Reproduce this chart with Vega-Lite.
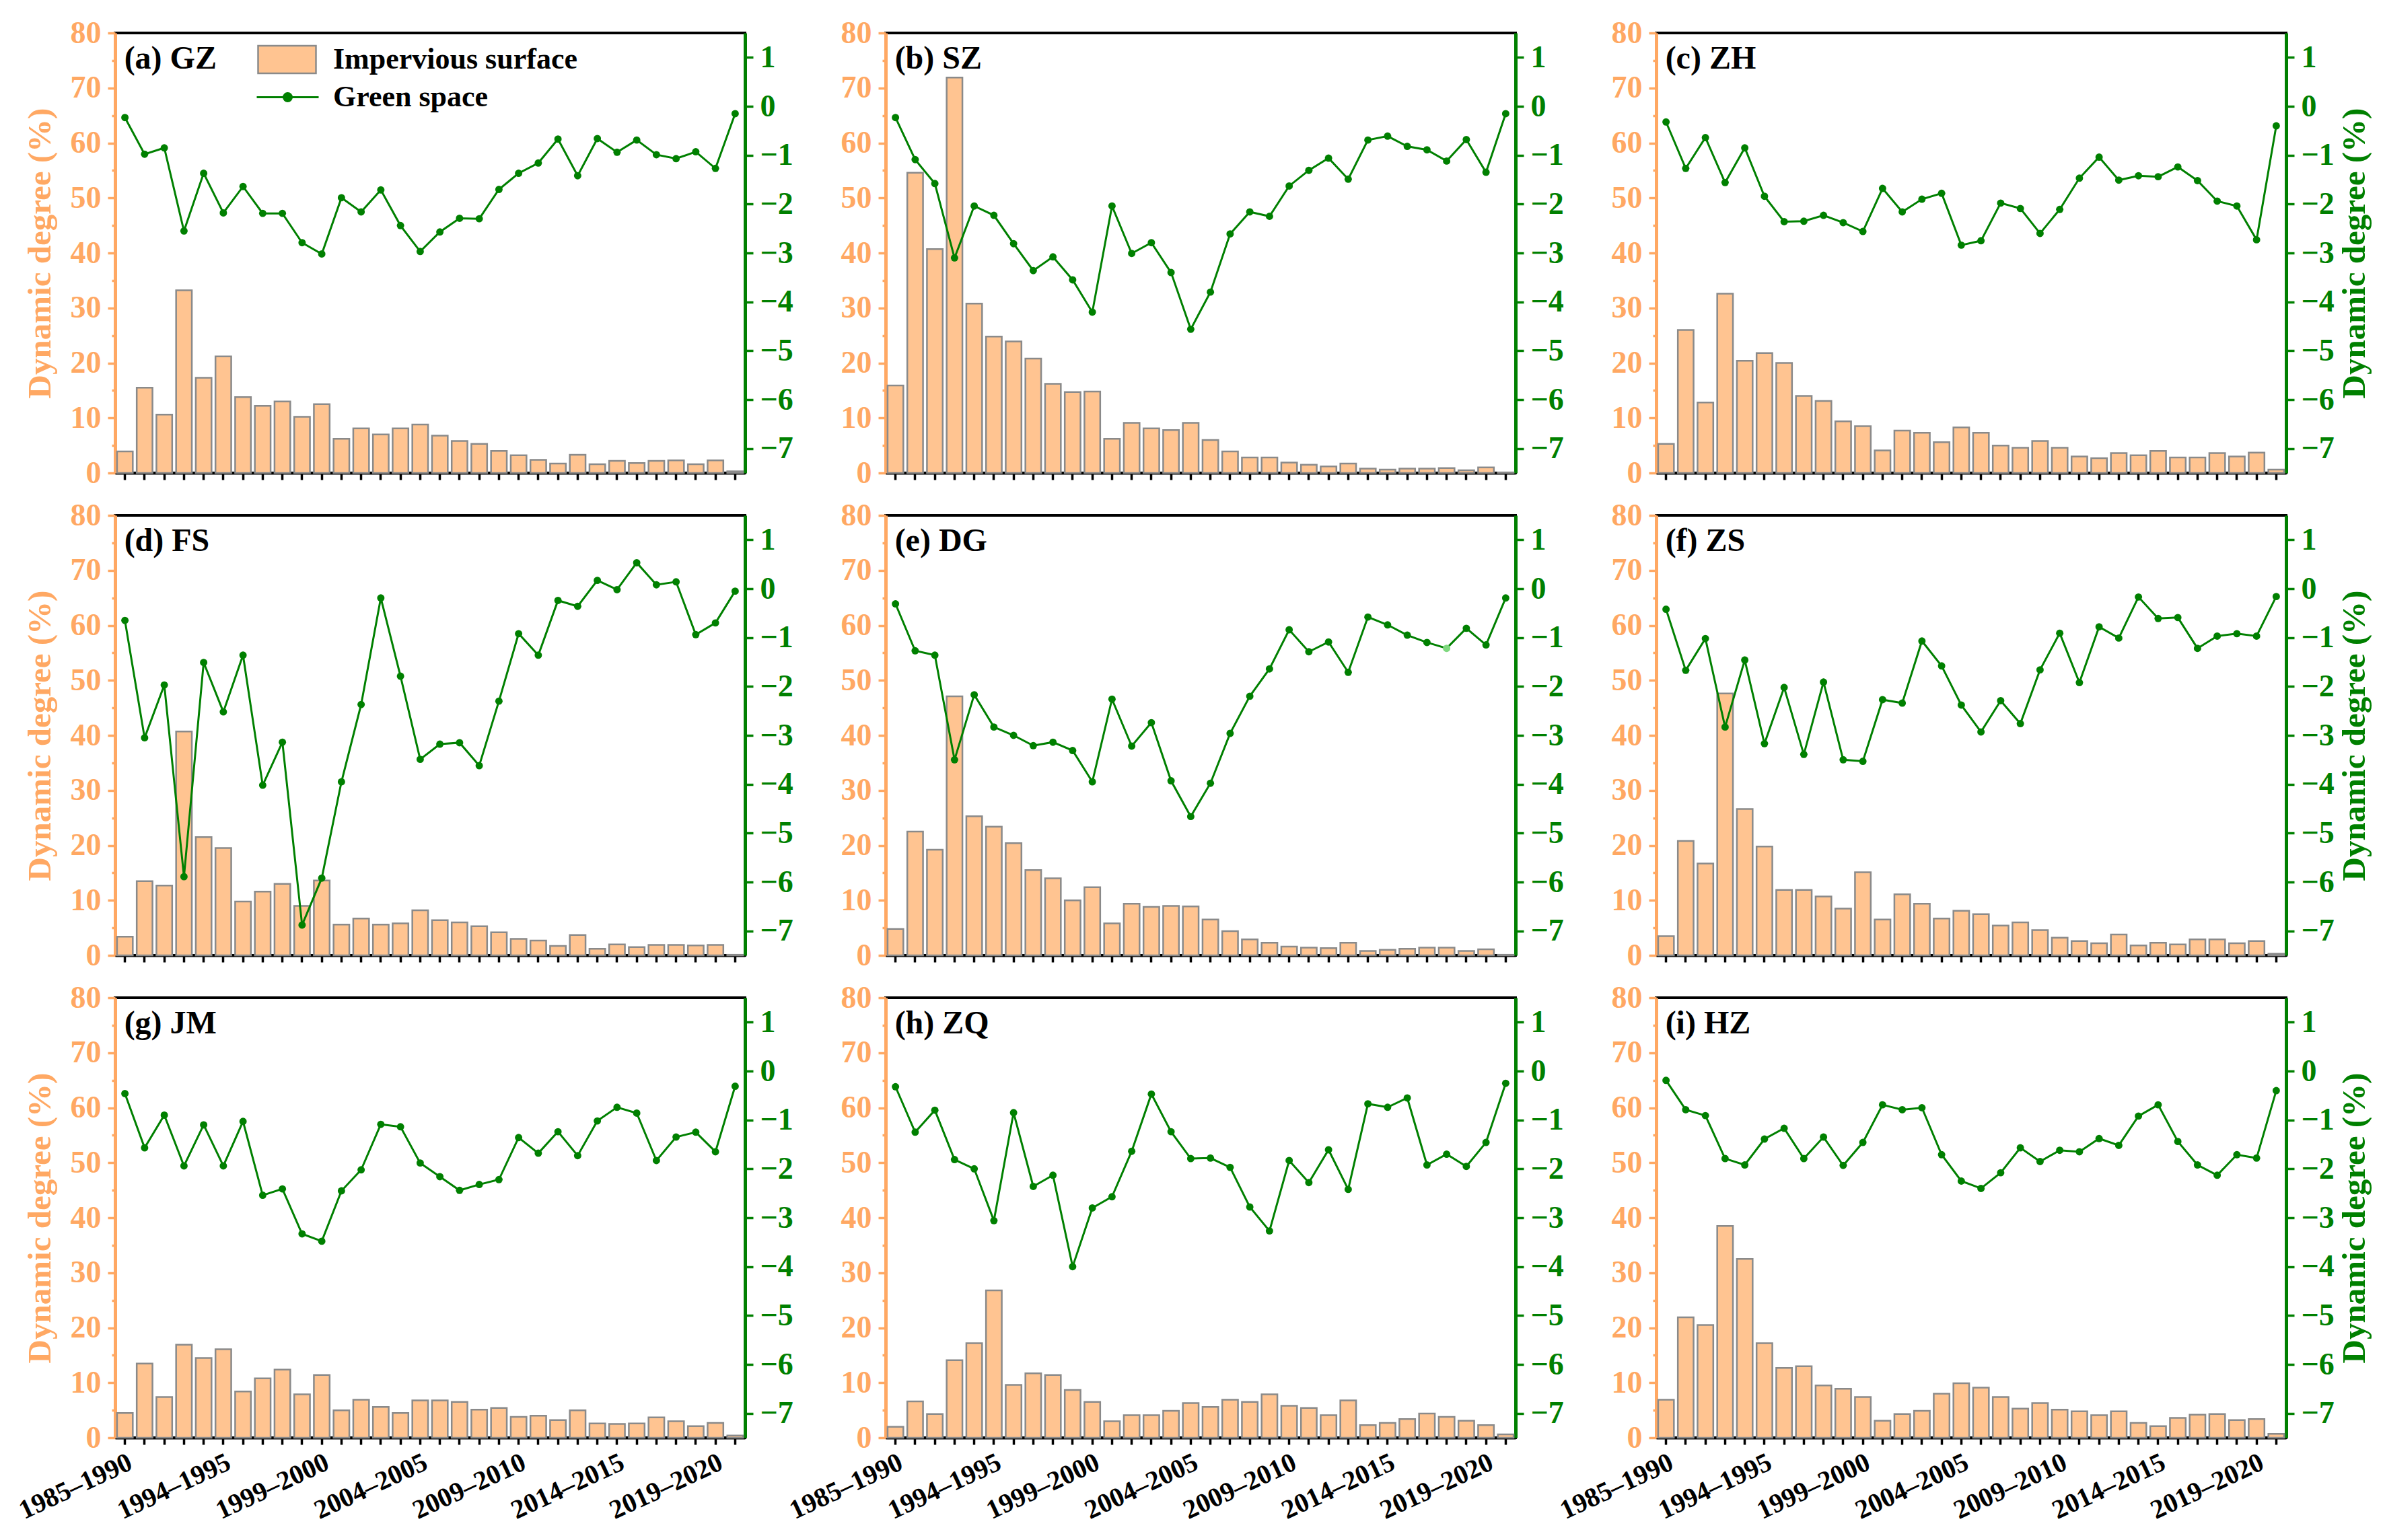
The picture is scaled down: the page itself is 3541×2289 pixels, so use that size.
{
"$schema": "https://vega.github.io/schema/vega-lite/v6.json",
"background": "white",
"padding": {"left": 19, "top": 24, "right": 0, "bottom": 0},
"autosize": {"type": "pad"},
"datasets": {"d": [
{"period":"1985–1990","GZ_imp":3.9,"GZ_green":-0.23,"SZ_imp":15.9,"SZ_green":-0.23,"ZH_imp":5.3,"ZH_green":-0.32,"FS_imp":3.4,"FS_green":-0.65,"DG_imp":4.8,"DG_green":-0.31,"ZS_imp":3.5,"ZS_green":-0.42,"JM_imp":4.5,"JM_green":-0.46,"ZQ_imp":2.0,"ZQ_green":-0.32,"HZ_imp":6.9,"HZ_green":-0.19},
{"period":"1990–1991","GZ_imp":15.5,"GZ_green":-0.98,"SZ_imp":54.6,"SZ_green":-1.09,"ZH_imp":26.0,"ZH_green":-1.27,"FS_imp":13.5,"FS_green":-3.05,"DG_imp":22.5,"DG_green":-1.27,"ZS_imp":20.8,"ZS_green":-1.67,"JM_imp":13.5,"JM_green":-1.57,"ZQ_imp":6.6,"ZQ_green":-1.25,"HZ_imp":21.9,"HZ_green":-0.79},
{"period":"1991–1992","GZ_imp":10.6,"GZ_green":-0.85,"SZ_imp":40.7,"SZ_green":-1.58,"ZH_imp":12.8,"ZH_green":-0.64,"FS_imp":12.7,"FS_green":-1.97,"DG_imp":19.2,"DG_green":-1.36,"ZS_imp":16.7,"ZS_green":-1.02,"JM_imp":7.4,"JM_green":-0.90,"ZQ_imp":4.3,"ZQ_green":-0.80,"HZ_imp":20.5,"HZ_green":-0.91},
{"period":"1992–1993","GZ_imp":33.2,"GZ_green":-2.55,"SZ_imp":71.9,"SZ_green":-3.10,"ZH_imp":32.6,"ZH_green":-1.56,"FS_imp":40.7,"FS_green":-5.89,"DG_imp":47.1,"DG_green":-3.50,"ZS_imp":47.6,"ZS_green":-2.83,"JM_imp":16.9,"JM_green":-1.94,"ZQ_imp":14.1,"ZQ_green":-1.81,"HZ_imp":38.5,"HZ_green":-1.79},
{"period":"1993–1994","GZ_imp":17.3,"GZ_green":-1.37,"SZ_imp":30.8,"SZ_green":-2.04,"ZH_imp":20.4,"ZH_green":-0.85,"FS_imp":21.5,"FS_green":-1.51,"DG_imp":25.3,"DG_green":-2.17,"ZS_imp":26.6,"ZS_green":-1.46,"JM_imp":14.5,"JM_green":-1.10,"ZQ_imp":17.2,"ZQ_green":-2.00,"HZ_imp":32.5,"HZ_green":-1.92},
{"period":"1994–1995","GZ_imp":21.2,"GZ_green":-2.18,"SZ_imp":24.8,"SZ_green":-2.23,"ZH_imp":21.8,"ZH_green":-1.84,"FS_imp":19.5,"FS_green":-2.52,"DG_imp":23.4,"DG_green":-2.83,"ZS_imp":19.8,"ZS_green":-3.17,"JM_imp":16.1,"JM_green":-1.94,"ZQ_imp":26.8,"ZQ_green":-3.06,"HZ_imp":17.2,"HZ_green":-1.39},
{"period":"1995–1996","GZ_imp":13.8,"GZ_green":-1.64,"SZ_imp":23.9,"SZ_green":-2.81,"ZH_imp":20.0,"ZH_green":-2.36,"FS_imp":9.8,"FS_green":-1.36,"DG_imp":20.4,"DG_green":-3.00,"ZS_imp":11.9,"ZS_green":-2.02,"JM_imp":8.4,"JM_green":-1.03,"ZQ_imp":9.6,"ZQ_green":-0.85,"HZ_imp":12.7,"HZ_green":-1.17},
{"period":"1996–1997","GZ_imp":12.2,"GZ_green":-2.19,"SZ_imp":20.8,"SZ_green":-3.36,"ZH_imp":14.0,"ZH_green":-2.35,"FS_imp":11.6,"FS_green":-4.02,"DG_imp":15.5,"DG_green":-3.21,"ZS_imp":11.9,"ZS_green":-3.39,"JM_imp":10.8,"JM_green":-2.54,"ZQ_imp":11.7,"ZQ_green":-2.36,"HZ_imp":13.0,"HZ_green":-1.79},
{"period":"1997–1998","GZ_imp":13.0,"GZ_green":-2.19,"SZ_imp":16.2,"SZ_green":-3.08,"ZH_imp":13.1,"ZH_green":-2.23,"FS_imp":13.0,"FS_green":-3.14,"DG_imp":14.0,"DG_green":-3.14,"ZS_imp":10.7,"ZS_green":-1.91,"JM_imp":12.4,"JM_green":-2.41,"ZQ_imp":11.4,"ZQ_green":-2.13,"HZ_imp":9.5,"HZ_green":-1.35},
{"period":"1998–1999","GZ_imp":10.2,"GZ_green":-2.79,"SZ_imp":14.7,"SZ_green":-3.55,"ZH_imp":9.4,"ZH_green":-2.38,"FS_imp":9.0,"FS_green":-6.88,"DG_imp":10.0,"DG_green":-3.31,"ZS_imp":8.5,"ZS_green":-3.50,"JM_imp":7.9,"JM_green":-3.33,"ZQ_imp":8.7,"ZQ_green":-4.00,"HZ_imp":8.9,"HZ_green":-1.93},
{"period":"1999–2000","GZ_imp":12.5,"GZ_green":-3.02,"SZ_imp":14.8,"SZ_green":-4.21,"ZH_imp":8.5,"ZH_green":-2.56,"FS_imp":13.6,"FS_green":-5.92,"DG_imp":12.4,"DG_green":-3.95,"ZS_imp":15.1,"ZS_green":-3.53,"JM_imp":11.4,"JM_green":-3.48,"ZQ_imp":6.5,"ZQ_green":-2.80,"HZ_imp":7.4,"HZ_green":-1.46},
{"period":"2000–2001","GZ_imp":6.2,"GZ_green":-1.87,"SZ_imp":6.2,"SZ_green":-2.04,"ZH_imp":4.1,"ZH_green":-1.68,"FS_imp":5.6,"FS_green":-3.95,"DG_imp":5.8,"DG_green":-2.26,"ZS_imp":6.5,"ZS_green":-2.27,"JM_imp":5.0,"JM_green":-2.45,"ZQ_imp":3.0,"ZQ_green":-2.57,"HZ_imp":3.1,"HZ_green":-0.69},
{"period":"2001–2002","GZ_imp":8.1,"GZ_green":-2.16,"SZ_imp":9.1,"SZ_green":-3.01,"ZH_imp":7.7,"ZH_green":-2.16,"FS_imp":6.7,"FS_green":-2.37,"DG_imp":9.4,"DG_green":-3.22,"ZS_imp":11.1,"ZS_green":-2.34,"JM_imp":6.9,"JM_green":-2.02,"ZQ_imp":4.1,"ZQ_green":-1.64,"HZ_imp":4.3,"HZ_green":-0.79},
{"period":"2002–2003","GZ_imp":7.0,"GZ_green":-1.71,"SZ_imp":8.1,"SZ_green":-2.79,"ZH_imp":7.3,"ZH_green":-1.90,"FS_imp":5.6,"FS_green":-0.19,"DG_imp":8.8,"DG_green":-2.74,"ZS_imp":9.4,"ZS_green":-1.07,"JM_imp":5.6,"JM_green":-1.09,"ZQ_imp":4.1,"ZQ_green":-0.47,"HZ_imp":4.9,"HZ_green":-0.75},
{"period":"2003–2004","GZ_imp":8.1,"GZ_green":-2.44,"SZ_imp":7.8,"SZ_green":-3.40,"ZH_imp":5.6,"ZH_green":-1.78,"FS_imp":5.8,"FS_green":-1.79,"DG_imp":9.0,"DG_green":-3.93,"ZS_imp":6.7,"ZS_green":-1.58,"JM_imp":4.5,"JM_green":-1.14,"ZQ_imp":4.9,"ZQ_green":-1.24,"HZ_imp":8.0,"HZ_green":-1.71},
{"period":"2004–2005","GZ_imp":8.8,"GZ_green":-2.97,"SZ_imp":9.1,"SZ_green":-4.56,"ZH_imp":8.3,"ZH_green":-2.84,"FS_imp":8.2,"FS_green":-3.49,"DG_imp":8.9,"DG_green":-4.66,"ZS_imp":8.1,"ZS_green":-2.38,"JM_imp":6.8,"JM_green":-1.88,"ZQ_imp":6.3,"ZQ_green":-1.79,"HZ_imp":9.9,"HZ_green":-2.25},
{"period":"2005–2006","GZ_imp":6.8,"GZ_green":-2.57,"SZ_imp":6.0,"SZ_green":-3.80,"ZH_imp":7.3,"ZH_green":-2.75,"FS_imp":6.4,"FS_green":-3.18,"DG_imp":6.5,"DG_green":-3.98,"ZS_imp":7.5,"ZS_green":-2.93,"JM_imp":6.8,"JM_green":-2.16,"ZQ_imp":5.6,"ZQ_green":-1.78,"HZ_imp":9.1,"HZ_green":-2.40},
{"period":"2006–2007","GZ_imp":5.8,"GZ_green":-2.29,"SZ_imp":3.9,"SZ_green":-2.61,"ZH_imp":5.0,"ZH_green":-1.98,"FS_imp":6.0,"FS_green":-3.15,"DG_imp":4.4,"DG_green":-2.96,"ZS_imp":5.4,"ZS_green":-2.29,"JM_imp":6.5,"JM_green":-2.44,"ZQ_imp":6.9,"ZQ_green":-1.97,"HZ_imp":7.4,"HZ_green":-2.08},
{"period":"2007–2008","GZ_imp":5.3,"GZ_green":-2.30,"SZ_imp":2.8,"SZ_green":-2.16,"ZH_imp":4.6,"ZH_green":-2.09,"FS_imp":5.3,"FS_green":-3.62,"DG_imp":2.9,"DG_green":-2.20,"ZS_imp":6.0,"ZS_green":-2.76,"JM_imp":5.1,"JM_green":-2.32,"ZQ_imp":6.5,"ZQ_green":-2.78,"HZ_imp":5.3,"HZ_green":-1.57},
{"period":"2008–2009","GZ_imp":4.0,"GZ_green":-1.70,"SZ_imp":2.8,"SZ_green":-2.25,"ZH_imp":5.8,"ZH_green":-2.60,"FS_imp":4.2,"FS_green":-2.30,"DG_imp":2.3,"DG_green":-1.64,"ZS_imp":4.6,"ZS_green":-1.66,"JM_imp":5.4,"JM_green":-2.22,"ZQ_imp":7.9,"ZQ_green":-3.27,"HZ_imp":6.3,"HZ_green":-1.85},
{"period":"2009–2010","GZ_imp":3.2,"GZ_green":-1.37,"SZ_imp":1.9,"SZ_green":-1.63,"ZH_imp":4.6,"ZH_green":-2.11,"FS_imp":3.0,"FS_green":-0.92,"DG_imp":1.6,"DG_green":-0.84,"ZS_imp":3.2,"ZS_green":-0.91,"JM_imp":3.8,"JM_green":-1.36,"ZQ_imp":5.8,"ZQ_green":-1.83,"HZ_imp":5.1,"HZ_green":-1.62},
{"period":"2010–2011","GZ_imp":2.4,"GZ_green":-1.16,"SZ_imp":1.5,"SZ_green":-1.31,"ZH_imp":3.0,"ZH_green":-1.47,"FS_imp":2.7,"FS_green":-1.36,"DG_imp":1.4,"DG_green":-1.29,"ZS_imp":2.6,"ZS_green":-1.92,"JM_imp":4.0,"JM_green":-1.68,"ZQ_imp":5.4,"ZQ_green":-2.28,"HZ_imp":4.8,"HZ_green":-1.65},
{"period":"2011–2012","GZ_imp":1.7,"GZ_green":-0.67,"SZ_imp":1.2,"SZ_green":-1.06,"ZH_imp":2.7,"ZH_green":-1.04,"FS_imp":1.7,"FS_green":-0.24,"DG_imp":1.3,"DG_green":-1.09,"ZS_imp":2.2,"ZS_green":-0.78,"JM_imp":3.2,"JM_green":-1.24,"ZQ_imp":4.1,"ZQ_green":-1.61,"HZ_imp":4.1,"HZ_green":-1.38},
{"period":"2012–2013","GZ_imp":3.3,"GZ_green":-1.42,"SZ_imp":1.7,"SZ_green":-1.49,"ZH_imp":3.6,"ZH_green":-1.51,"FS_imp":3.7,"FS_green":-0.36,"DG_imp":2.3,"DG_green":-1.71,"ZS_imp":3.8,"ZS_green":-1.01,"JM_imp":5.0,"JM_green":-1.73,"ZQ_imp":6.8,"ZQ_green":-2.42,"HZ_imp":4.8,"HZ_green":-1.52},
{"period":"2013–2014","GZ_imp":1.6,"GZ_green":-0.66,"SZ_imp":0.8,"SZ_green":-0.69,"ZH_imp":3.2,"ZH_green":-1.42,"FS_imp":1.2,"FS_green":0.17,"DG_imp":0.8,"DG_green":-0.58,"ZS_imp":1.8,"ZS_green":-0.17,"JM_imp":2.6,"JM_green":-1.02,"ZQ_imp":2.3,"ZQ_green":-0.67,"HZ_imp":2.7,"HZ_green":-0.92},
{"period":"2014–2015","GZ_imp":2.2,"GZ_green":-0.94,"SZ_imp":0.6,"SZ_green":-0.61,"ZH_imp":4.0,"ZH_green":-1.44,"FS_imp":2.0,"FS_green":-0.02,"DG_imp":1.0,"DG_green":-0.74,"ZS_imp":2.3,"ZS_green":-0.61,"JM_imp":2.5,"JM_green":-0.74,"ZQ_imp":2.7,"ZQ_green":-0.74,"HZ_imp":2.1,"HZ_green":-0.69},
{"period":"2015–2016","GZ_imp":1.8,"GZ_green":-0.69,"SZ_imp":0.8,"SZ_green":-0.82,"ZH_imp":2.8,"ZH_green":-1.24,"FS_imp":1.5,"FS_green":0.53,"DG_imp":1.2,"DG_green":-0.95,"ZS_imp":2.0,"ZS_green":-0.59,"JM_imp":2.6,"JM_green":-0.86,"ZQ_imp":3.4,"ZQ_green":-0.55,"HZ_imp":3.6,"HZ_green":-1.44},
{"period":"2016–2017","GZ_imp":2.2,"GZ_green":-0.99,"SZ_imp":0.8,"SZ_green":-0.89,"ZH_imp":2.8,"ZH_green":-1.52,"FS_imp":1.9,"FS_green":0.08,"DG_imp":1.4,"DG_green":-1.10,"ZS_imp":2.9,"ZS_green":-1.22,"JM_imp":3.7,"JM_green":-1.83,"ZQ_imp":4.4,"ZQ_green":-1.92,"HZ_imp":4.2,"HZ_green":-1.92},
{"period":"2017–2018","GZ_imp":2.3,"GZ_green":-1.07,"SZ_imp":0.9,"SZ_green":-1.12,"ZH_imp":3.6,"ZH_green":-1.94,"FS_imp":1.9,"FS_green":0.14,"DG_imp":1.4,"DG_green":-1.22,"ZS_imp":2.9,"ZS_green":-0.97,"JM_imp":3.0,"JM_green":-1.35,"ZQ_imp":3.8,"ZQ_green":-1.70,"HZ_imp":4.3,"HZ_green":-2.13},
{"period":"2018–2019","GZ_imp":1.6,"GZ_green":-0.93,"SZ_imp":0.5,"SZ_green":-0.68,"ZH_imp":3.0,"ZH_green":-2.04,"FS_imp":1.8,"FS_green":-0.94,"DG_imp":0.8,"DG_green":-0.81,"ZS_imp":2.2,"ZS_green":-0.92,"JM_imp":2.1,"JM_green":-1.25,"ZQ_imp":3.1,"ZQ_green":-1.95,"HZ_imp":3.2,"HZ_green":-1.71},
{"period":"2019–2020","GZ_imp":2.3,"GZ_green":-1.27,"SZ_imp":1.0,"SZ_green":-1.35,"ZH_imp":3.7,"ZH_green":-2.73,"FS_imp":1.9,"FS_green":-0.70,"DG_imp":1.1,"DG_green":-1.15,"ZS_imp":2.6,"ZS_green":-0.97,"JM_imp":2.7,"JM_green":-1.65,"ZQ_imp":2.3,"ZQ_green":-1.46,"HZ_imp":3.4,"HZ_green":-1.78},
{"period":"2020–2021","GZ_imp":0.3,"GZ_green":-0.15,"SZ_imp":0.1,"SZ_green":-0.15,"ZH_imp":0.6,"ZH_green":-0.40,"FS_imp":0.1,"FS_green":-0.05,"DG_imp":0.1,"DG_green":-0.19,"ZS_imp":0.3,"ZS_green":-0.16,"JM_imp":0.4,"JM_green":-0.31,"ZQ_imp":0.6,"ZQ_green":-0.25,"HZ_imp":0.7,"HZ_green":-0.40}
]},
"data": {"name": "d"},
"columns": 3,
"spacing": {"row": 63, "column": 209},
"bounds": "flush",
"concat": [
{"width": 936, "height": 654,
 "encoding": {"x": {"field": "period", "type": "ordinal", "scale": {"paddingInner": 0.2, "paddingOuter": 0.1}, "axis": {"title": null, "labels": false}}},
 "layer": [
  {"layer": [
   {"mark": {"type": "bar", "fill": "#FFC491", "stroke": "#8A8A8A", "strokeWidth": 2.5},
    "encoding": {"y": {"field": "GZ_imp", "type": "quantitative", "scale": {"domain": [0, 80], "nice": false}, "axis": {"values": [0,5,10,15,20,25,30,35,40,45,50,55,60,65,70,75,80], "labelExpr": "datum.value % 10 === 0 ? datum.label : ''", "tickSize": {"condition": {"test": "datum.value % 10 === 0", "value": 11}, "value": 5}, "title": "Dynamic degree (%)"}},
     "fill": {"datum": "Impervious surface", "type": "nominal", "scale": {"range": ["#FFC491"]}, "legend": {"title": null, "orient": "none", "legendX": 211, "legendY": -5, "padding": 0, "symbolType": "M-1,-0.477L1,-0.477L1,0.477L-1,0.477Z", "symbolSize": 7396, "symbolStrokeColor": "#8A8A8A", "symbolStrokeWidth": 2.5, "labelOffset": 24}}}},
   {"data": {"values": [{}]}, "mark": {"type": "text", "text": "(a) GZ", "align": "left", "baseline": "alphabetic", "fontSize": 48, "fontWeight": "bold", "color": "black", "dx": -1},
    "encoding": {"x": {"datum": "1985–1990"}, "y": {"datum": 73.5}}}
  ]},
  {"layer": [
   {"mark": {"type": "line", "stroke": "#008000", "strokeWidth": 3},
    "encoding": {"y": {"field": "GZ_green", "type": "quantitative", "scale": {"domain": [-7.5, 1.5], "nice": false, "zero": false}, "axis": {"orient": "right", "format": "d", "values": [-7,-6.5,-6,-5.5,-5,-4.5,-4,-3.5,-3,-2.5,-2,-1.5,-1,-0.5,0,0.5,1], "labelExpr": "datum.value % 1 === 0 ? datum.label : ''", "tickSize": {"condition": {"test": "datum.value % 1 === 0", "value": 12}, "value": 5}, "title": null}}}},
   {"mark": {"type": "circle", "size": 120, "opacity": 1, "color": "#008000"},
    "encoding": {"y": {"field": "GZ_green", "type": "quantitative"},
     "color": {"datum": "Green space", "type": "nominal", "scale": {"range": ["#008000"]}, "legend": {"title": null, "orient": "none", "legendX": 209, "legendY": 48, "padding": 0, "symbolType": "M-1,0L1,0M-0.13,0A0.13,0.13,0,1,1,0.13,0A0.13,0.13,0,1,1,-0.13,0Z", "symbolSize": 8464, "symbolStrokeColor": "#008000", "symbolStrokeWidth": 3, "labelOffset": 20}}}}
  ]}
 ],
 "resolve": {"scale": {"y": "independent"}}
},
{"width": 936, "height": 654,
 "encoding": {"x": {"field": "period", "type": "ordinal", "scale": {"paddingInner": 0.2, "paddingOuter": 0.1}, "axis": {"title": null, "labels": false}}},
 "layer": [
  {"layer": [
   {"mark": {"type": "bar", "fill": "#FFC491", "stroke": "#8A8A8A", "strokeWidth": 2.5},
    "encoding": {"y": {"field": "SZ_imp", "type": "quantitative", "scale": {"domain": [0, 80], "nice": false}, "axis": {"values": [0,5,10,15,20,25,30,35,40,45,50,55,60,65,70,75,80], "labelExpr": "datum.value % 10 === 0 ? datum.label : ''", "tickSize": {"condition": {"test": "datum.value % 10 === 0", "value": 11}, "value": 5}, "title": null}}}},
   {"data": {"values": [{}]}, "mark": {"type": "text", "text": "(b) SZ", "align": "left", "baseline": "alphabetic", "fontSize": 48, "fontWeight": "bold", "color": "black", "dx": -1},
    "encoding": {"x": {"datum": "1985–1990"}, "y": {"datum": 73.5}}}
  ]},
  {"layer": [
   {"mark": {"type": "line", "stroke": "#008000", "strokeWidth": 3},
    "encoding": {"y": {"field": "SZ_green", "type": "quantitative", "scale": {"domain": [-7.5, 1.5], "nice": false, "zero": false}, "axis": {"orient": "right", "format": "d", "values": [-7,-6.5,-6,-5.5,-5,-4.5,-4,-3.5,-3,-2.5,-2,-1.5,-1,-0.5,0,0.5,1], "labelExpr": "datum.value % 1 === 0 ? datum.label : ''", "tickSize": {"condition": {"test": "datum.value % 1 === 0", "value": 12}, "value": 5}, "title": null}}}},
   {"mark": {"type": "circle", "size": 120, "opacity": 1, "color": "#008000"},
    "encoding": {"y": {"field": "SZ_green", "type": "quantitative"}}}
  ]}
 ],
 "resolve": {"scale": {"y": "independent"}}
},
{"width": 936, "height": 654,
 "encoding": {"x": {"field": "period", "type": "ordinal", "scale": {"paddingInner": 0.2, "paddingOuter": 0.1}, "axis": {"title": null, "labels": false}}},
 "layer": [
  {"layer": [
   {"mark": {"type": "bar", "fill": "#FFC491", "stroke": "#8A8A8A", "strokeWidth": 2.5},
    "encoding": {"y": {"field": "ZH_imp", "type": "quantitative", "scale": {"domain": [0, 80], "nice": false}, "axis": {"values": [0,5,10,15,20,25,30,35,40,45,50,55,60,65,70,75,80], "labelExpr": "datum.value % 10 === 0 ? datum.label : ''", "tickSize": {"condition": {"test": "datum.value % 10 === 0", "value": 11}, "value": 5}, "title": null}}}},
   {"data": {"values": [{}]}, "mark": {"type": "text", "text": "(c) ZH", "align": "left", "baseline": "alphabetic", "fontSize": 48, "fontWeight": "bold", "color": "black", "dx": -1},
    "encoding": {"x": {"datum": "1985–1990"}, "y": {"datum": 73.5}}}
  ]},
  {"layer": [
   {"mark": {"type": "line", "stroke": "#008000", "strokeWidth": 3},
    "encoding": {"y": {"field": "ZH_green", "type": "quantitative", "scale": {"domain": [-7.5, 1.5], "nice": false, "zero": false}, "axis": {"orient": "right", "format": "d", "values": [-7,-6.5,-6,-5.5,-5,-4.5,-4,-3.5,-3,-2.5,-2,-1.5,-1,-0.5,0,0.5,1], "labelExpr": "datum.value % 1 === 0 ? datum.label : ''", "tickSize": {"condition": {"test": "datum.value % 1 === 0", "value": 12}, "value": 5}, "title": "Dynamic degree (%)"}}}},
   {"mark": {"type": "circle", "size": 120, "opacity": 1, "color": "#008000"},
    "encoding": {"y": {"field": "ZH_green", "type": "quantitative"}}}
  ]}
 ],
 "resolve": {"scale": {"y": "independent"}}
},
{"width": 936, "height": 654,
 "encoding": {"x": {"field": "period", "type": "ordinal", "scale": {"paddingInner": 0.2, "paddingOuter": 0.1}, "axis": {"title": null, "labels": false}}},
 "layer": [
  {"layer": [
   {"mark": {"type": "bar", "fill": "#FFC491", "stroke": "#8A8A8A", "strokeWidth": 2.5},
    "encoding": {"y": {"field": "FS_imp", "type": "quantitative", "scale": {"domain": [0, 80], "nice": false}, "axis": {"values": [0,5,10,15,20,25,30,35,40,45,50,55,60,65,70,75,80], "labelExpr": "datum.value % 10 === 0 ? datum.label : ''", "tickSize": {"condition": {"test": "datum.value % 10 === 0", "value": 11}, "value": 5}, "title": "Dynamic degree (%)"}}}},
   {"data": {"values": [{}]}, "mark": {"type": "text", "text": "(d) FS", "align": "left", "baseline": "alphabetic", "fontSize": 48, "fontWeight": "bold", "color": "black", "dx": -1},
    "encoding": {"x": {"datum": "1985–1990"}, "y": {"datum": 73.5}}}
  ]},
  {"layer": [
   {"mark": {"type": "line", "stroke": "#008000", "strokeWidth": 3},
    "encoding": {"y": {"field": "FS_green", "type": "quantitative", "scale": {"domain": [-7.5, 1.5], "nice": false, "zero": false}, "axis": {"orient": "right", "format": "d", "values": [-7,-6.5,-6,-5.5,-5,-4.5,-4,-3.5,-3,-2.5,-2,-1.5,-1,-0.5,0,0.5,1], "labelExpr": "datum.value % 1 === 0 ? datum.label : ''", "tickSize": {"condition": {"test": "datum.value % 1 === 0", "value": 12}, "value": 5}, "title": null}}}},
   {"mark": {"type": "circle", "size": 120, "opacity": 1, "color": "#008000"},
    "encoding": {"y": {"field": "FS_green", "type": "quantitative"}}}
  ]}
 ],
 "resolve": {"scale": {"y": "independent"}}
},
{"width": 936, "height": 654,
 "encoding": {"x": {"field": "period", "type": "ordinal", "scale": {"paddingInner": 0.2, "paddingOuter": 0.1}, "axis": {"title": null, "labels": false}}},
 "layer": [
  {"layer": [
   {"mark": {"type": "bar", "fill": "#FFC491", "stroke": "#8A8A8A", "strokeWidth": 2.5},
    "encoding": {"y": {"field": "DG_imp", "type": "quantitative", "scale": {"domain": [0, 80], "nice": false}, "axis": {"values": [0,5,10,15,20,25,30,35,40,45,50,55,60,65,70,75,80], "labelExpr": "datum.value % 10 === 0 ? datum.label : ''", "tickSize": {"condition": {"test": "datum.value % 10 === 0", "value": 11}, "value": 5}, "title": null}}}},
   {"data": {"values": [{}]}, "mark": {"type": "text", "text": "(e) DG", "align": "left", "baseline": "alphabetic", "fontSize": 48, "fontWeight": "bold", "color": "black", "dx": -1},
    "encoding": {"x": {"datum": "1985–1990"}, "y": {"datum": 73.5}}}
  ]},
  {"layer": [
   {"mark": {"type": "line", "stroke": "#008000", "strokeWidth": 3},
    "encoding": {"y": {"field": "DG_green", "type": "quantitative", "scale": {"domain": [-7.5, 1.5], "nice": false, "zero": false}, "axis": {"orient": "right", "format": "d", "values": [-7,-6.5,-6,-5.5,-5,-4.5,-4,-3.5,-3,-2.5,-2,-1.5,-1,-0.5,0,0.5,1], "labelExpr": "datum.value % 1 === 0 ? datum.label : ''", "tickSize": {"condition": {"test": "datum.value % 1 === 0", "value": 12}, "value": 5}, "title": null}}}},
   {"mark": {"type": "circle", "size": 120, "opacity": 1},
    "encoding": {"y": {"field": "DG_green", "type": "quantitative"}, "color": {"condition": {"test": "datum.period === '2017–2018'", "value": "#7FD87F"}, "value": "#008000"}}}
  ]}
 ],
 "resolve": {"scale": {"y": "independent"}}
},
{"width": 936, "height": 654,
 "encoding": {"x": {"field": "period", "type": "ordinal", "scale": {"paddingInner": 0.2, "paddingOuter": 0.1}, "axis": {"title": null, "labels": false}}},
 "layer": [
  {"layer": [
   {"mark": {"type": "bar", "fill": "#FFC491", "stroke": "#8A8A8A", "strokeWidth": 2.5},
    "encoding": {"y": {"field": "ZS_imp", "type": "quantitative", "scale": {"domain": [0, 80], "nice": false}, "axis": {"values": [0,5,10,15,20,25,30,35,40,45,50,55,60,65,70,75,80], "labelExpr": "datum.value % 10 === 0 ? datum.label : ''", "tickSize": {"condition": {"test": "datum.value % 10 === 0", "value": 11}, "value": 5}, "title": null}}}},
   {"data": {"values": [{}]}, "mark": {"type": "text", "text": "(f) ZS", "align": "left", "baseline": "alphabetic", "fontSize": 48, "fontWeight": "bold", "color": "black", "dx": -1},
    "encoding": {"x": {"datum": "1985–1990"}, "y": {"datum": 73.5}}}
  ]},
  {"layer": [
   {"mark": {"type": "line", "stroke": "#008000", "strokeWidth": 3},
    "encoding": {"y": {"field": "ZS_green", "type": "quantitative", "scale": {"domain": [-7.5, 1.5], "nice": false, "zero": false}, "axis": {"orient": "right", "format": "d", "values": [-7,-6.5,-6,-5.5,-5,-4.5,-4,-3.5,-3,-2.5,-2,-1.5,-1,-0.5,0,0.5,1], "labelExpr": "datum.value % 1 === 0 ? datum.label : ''", "tickSize": {"condition": {"test": "datum.value % 1 === 0", "value": 12}, "value": 5}, "title": "Dynamic degree (%)"}}}},
   {"mark": {"type": "circle", "size": 120, "opacity": 1, "color": "#008000"},
    "encoding": {"y": {"field": "ZS_green", "type": "quantitative"}}}
  ]}
 ],
 "resolve": {"scale": {"y": "independent"}}
},
{"width": 936, "height": 654,
 "encoding": {"x": {"field": "period", "type": "ordinal", "scale": {"paddingInner": 0.2, "paddingOuter": 0.1}, "axis": {"title": null, "labelExpr": "indexof(['1985–1990','1994–1995','1999–2000','2004–2005','2009–2010','2014–2015','2019–2020'], datum.value) >= 0 ? datum.label : ''"}}},
 "layer": [
  {"layer": [
   {"mark": {"type": "bar", "fill": "#FFC491", "stroke": "#8A8A8A", "strokeWidth": 2.5},
    "encoding": {"y": {"field": "JM_imp", "type": "quantitative", "scale": {"domain": [0, 80], "nice": false}, "axis": {"values": [0,5,10,15,20,25,30,35,40,45,50,55,60,65,70,75,80], "labelExpr": "datum.value % 10 === 0 ? datum.label : ''", "tickSize": {"condition": {"test": "datum.value % 10 === 0", "value": 11}, "value": 5}, "title": "Dynamic degree (%)"}}}},
   {"data": {"values": [{}]}, "mark": {"type": "text", "text": "(g) JM", "align": "left", "baseline": "alphabetic", "fontSize": 48, "fontWeight": "bold", "color": "black", "dx": -1},
    "encoding": {"x": {"datum": "1985–1990"}, "y": {"datum": 73.5}}}
  ]},
  {"layer": [
   {"mark": {"type": "line", "stroke": "#008000", "strokeWidth": 3},
    "encoding": {"y": {"field": "JM_green", "type": "quantitative", "scale": {"domain": [-7.5, 1.5], "nice": false, "zero": false}, "axis": {"orient": "right", "format": "d", "values": [-7,-6.5,-6,-5.5,-5,-4.5,-4,-3.5,-3,-2.5,-2,-1.5,-1,-0.5,0,0.5,1], "labelExpr": "datum.value % 1 === 0 ? datum.label : ''", "tickSize": {"condition": {"test": "datum.value % 1 === 0", "value": 12}, "value": 5}, "title": null}}}},
   {"mark": {"type": "circle", "size": 120, "opacity": 1, "color": "#008000"},
    "encoding": {"y": {"field": "JM_green", "type": "quantitative"}}}
  ]}
 ],
 "resolve": {"scale": {"y": "independent"}}
},
{"width": 936, "height": 654,
 "encoding": {"x": {"field": "period", "type": "ordinal", "scale": {"paddingInner": 0.2, "paddingOuter": 0.1}, "axis": {"title": null, "labelExpr": "indexof(['1985–1990','1994–1995','1999–2000','2004–2005','2009–2010','2014–2015','2019–2020'], datum.value) >= 0 ? datum.label : ''"}}},
 "layer": [
  {"layer": [
   {"mark": {"type": "bar", "fill": "#FFC491", "stroke": "#8A8A8A", "strokeWidth": 2.5},
    "encoding": {"y": {"field": "ZQ_imp", "type": "quantitative", "scale": {"domain": [0, 80], "nice": false}, "axis": {"values": [0,5,10,15,20,25,30,35,40,45,50,55,60,65,70,75,80], "labelExpr": "datum.value % 10 === 0 ? datum.label : ''", "tickSize": {"condition": {"test": "datum.value % 10 === 0", "value": 11}, "value": 5}, "title": null}}}},
   {"data": {"values": [{}]}, "mark": {"type": "text", "text": "(h) ZQ", "align": "left", "baseline": "alphabetic", "fontSize": 48, "fontWeight": "bold", "color": "black", "dx": -1},
    "encoding": {"x": {"datum": "1985–1990"}, "y": {"datum": 73.5}}}
  ]},
  {"layer": [
   {"mark": {"type": "line", "stroke": "#008000", "strokeWidth": 3},
    "encoding": {"y": {"field": "ZQ_green", "type": "quantitative", "scale": {"domain": [-7.5, 1.5], "nice": false, "zero": false}, "axis": {"orient": "right", "format": "d", "values": [-7,-6.5,-6,-5.5,-5,-4.5,-4,-3.5,-3,-2.5,-2,-1.5,-1,-0.5,0,0.5,1], "labelExpr": "datum.value % 1 === 0 ? datum.label : ''", "tickSize": {"condition": {"test": "datum.value % 1 === 0", "value": 12}, "value": 5}, "title": null}}}},
   {"mark": {"type": "circle", "size": 120, "opacity": 1, "color": "#008000"},
    "encoding": {"y": {"field": "ZQ_green", "type": "quantitative"}}}
  ]}
 ],
 "resolve": {"scale": {"y": "independent"}}
},
{"width": 936, "height": 654,
 "encoding": {"x": {"field": "period", "type": "ordinal", "scale": {"paddingInner": 0.2, "paddingOuter": 0.1}, "axis": {"title": null, "labelExpr": "indexof(['1985–1990','1994–1995','1999–2000','2004–2005','2009–2010','2014–2015','2019–2020'], datum.value) >= 0 ? datum.label : ''"}}},
 "layer": [
  {"layer": [
   {"mark": {"type": "bar", "fill": "#FFC491", "stroke": "#8A8A8A", "strokeWidth": 2.5},
    "encoding": {"y": {"field": "HZ_imp", "type": "quantitative", "scale": {"domain": [0, 80], "nice": false}, "axis": {"values": [0,5,10,15,20,25,30,35,40,45,50,55,60,65,70,75,80], "labelExpr": "datum.value % 10 === 0 ? datum.label : ''", "tickSize": {"condition": {"test": "datum.value % 10 === 0", "value": 11}, "value": 5}, "title": null}}}},
   {"data": {"values": [{}]}, "mark": {"type": "text", "text": "(i) HZ", "align": "left", "baseline": "alphabetic", "fontSize": 48, "fontWeight": "bold", "color": "black", "dx": -1},
    "encoding": {"x": {"datum": "1985–1990"}, "y": {"datum": 73.5}}}
  ]},
  {"layer": [
   {"mark": {"type": "line", "stroke": "#008000", "strokeWidth": 3},
    "encoding": {"y": {"field": "HZ_green", "type": "quantitative", "scale": {"domain": [-7.5, 1.5], "nice": false, "zero": false}, "axis": {"orient": "right", "format": "d", "values": [-7,-6.5,-6,-5.5,-5,-4.5,-4,-3.5,-3,-2.5,-2,-1.5,-1,-0.5,0,0.5,1], "labelExpr": "datum.value % 1 === 0 ? datum.label : ''", "tickSize": {"condition": {"test": "datum.value % 1 === 0", "value": 12}, "value": 5}, "title": "Dynamic degree (%)"}}}},
   {"mark": {"type": "circle", "size": 120, "opacity": 1, "color": "#008000"},
    "encoding": {"y": {"field": "HZ_green", "type": "quantitative"}}}
  ]}
 ],
 "resolve": {"scale": {"y": "independent"}}
}
],
"resolve": {"scale": {"fill": "independent", "color": "independent"}, "legend": {"fill": "independent", "color": "independent"}},
"config": {
 "view": {"stroke": "black", "strokeWidth": 4},
 "font": "Liberation Serif",
 "axis": {"labelFont": "Liberation Serif", "titleFont": "Liberation Serif", "labelFontWeight": "bold", "titleFontWeight": "bold", "grid": false, "labelFontSize": 46, "titleFontSize": 49, "zindex": 1, "labelOverlap": false, "labelLimit": 0, "tickWidth": 3.5},
 "axisX": {"domainColor": "black", "domainWidth": 4, "tickColor": "black", "tickSize": 10, "labelAngle": -25, "labelFontSize": 40, "labelColor": "black", "labelPadding": 6},
 "axisLeft": {"domainColor": "#FFA863", "domainWidth": 5, "tickColor": "#FFA863", "labelColor": "#FFA863", "titleColor": "#FFA863", "labelPadding": 10, "titlePadding": 20},
 "axisRight": {"domainColor": "#008000", "domainWidth": 5, "tickColor": "#008000", "labelColor": "#008000", "titleColor": "#008000", "labelPadding": 10, "titlePadding": 6, "titleAngle": -90, "titleBaseline": "top"},
 "legend": {"labelFont": "Liberation Serif", "labelFontWeight": "bold", "labelFontSize": 44, "labelColor": "black", "padding": 0, "labelLimit": 0},
 "text": {"font": "Liberation Serif"}
}
}
